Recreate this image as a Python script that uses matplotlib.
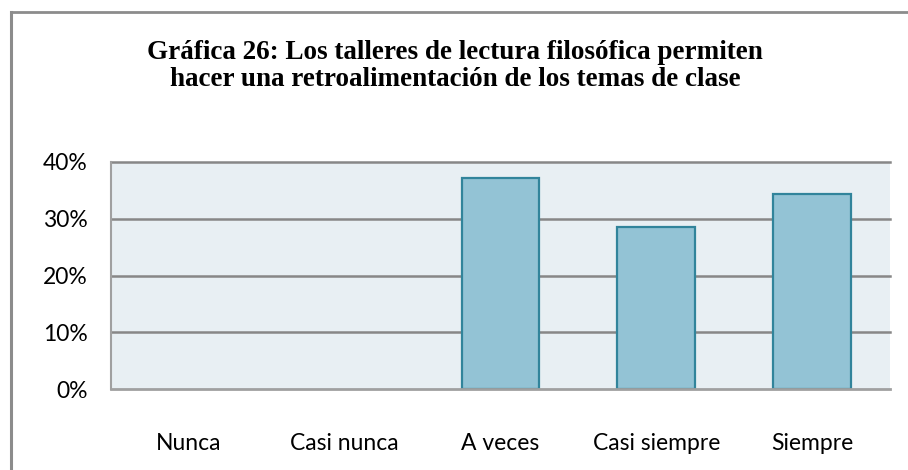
import matplotlib
matplotlib.use("Agg")
import matplotlib.pyplot as plt
from matplotlib.lines import Line2D
from matplotlib.ticker import FuncFormatter

categories = ["Nunca", "Casi nunca", "A veces", "Casi siempre", "Siempre"]
values = [0.0, 0.0, 37.2, 28.6, 34.4]
yticks = [0, 10, 20, 30, 40]
title = "Gráfica 26: Los talleres de lectura filosófica permiten\nhacer una retroalimentación de los temas de clase"

W, H = 908, 470
fig = plt.figure(figsize=(W / 100, H / 100), dpi=100)
fig.patch.set_facecolor("white")

ax = fig.add_axes([111 / W, 1 - 389 / H, (890 - 111) / W, (389 - 162) / H])
ax.set_facecolor("#E8EFF3")

x = list(range(len(categories)))
edges = ["#31849B" if v > 0 else "none" for v in values]
ax.bar(x, values, width=0.5, color="#93C3D5", edgecolor=edges, linewidth=1.6, zorder=3)

ax.set_xlim(-0.5, len(categories) - 0.5)
ax.set_ylim(0, 40)
ax.set_yticks(yticks)
ax.yaxis.set_major_formatter(FuncFormatter(lambda v, p: f"{int(v)}%"))
ax.set_xticks(x)
ax.set_xticklabels(categories)

for v in yticks[1:]:
    ax.axhline(v, color="#878787", linewidth=1.8, zorder=1, clip_on=False)

for s in ["top", "right"]:
    ax.spines[s].set_visible(False)
ax.spines["left"].set_color("#A0A0A0")
ax.spines["left"].set_linewidth(1.5)
ax.spines["bottom"].set_color("#A0A0A0")
ax.spines["bottom"].set_linewidth(2)
ax.spines["bottom"].set_zorder(4)

ax.tick_params(axis="both", length=0, labelsize=16.5, labelcolor="black")
ax.tick_params(axis="y", pad=17)
ax.tick_params(axis="x", pad=32)
for lab in ax.get_xticklabels() + ax.get_yticklabels():
    lab.set_fontfamily("Lato")

fig.text(455 / W, 1 - 66 / H, title, ha="center", va="center",
         fontsize=19.5, fontweight="bold", family="Liberation Serif",
         linespacing=1.15)

# outer frame (top and left edges visible)
fig.add_artist(Line2D([10.5 / W, 1.0], [1 - 12 / H, 1 - 12 / H], transform=fig.transFigure,
                      color="#8C8C8C", linewidth=2))
fig.add_artist(Line2D([10.5 / W, 10.5 / W], [0, 1 - 12 / H], transform=fig.transFigure,
                      color="#8C8C8C", linewidth=2.2))

fig.savefig("out.png", dpi=100)
